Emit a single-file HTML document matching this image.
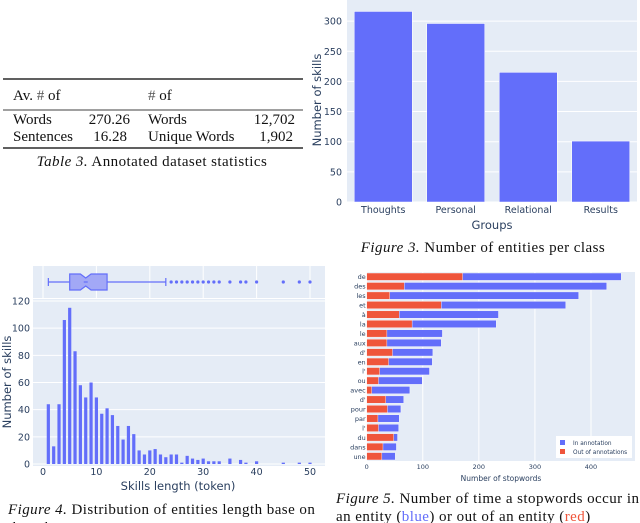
<!DOCTYPE html>
<html><head><meta charset="utf-8"><style>
body{margin:0;background:#fff;width:640px;height:523px;overflow:hidden}
svg{display:block}
.serif{font-family:"Liberation Serif",serif;fill:#111}
.cap{letter-spacing:0.45px}
.sans{font-family:"DejaVu Sans","Liberation Sans",sans-serif;fill:#2a3f5f}
</style></head><body>
<svg width="640" height="523" viewBox="0 0 640 523">
<g id="tbl">
<line x1="3" x2="303" y1="79" y2="79" stroke="#000" stroke-width="1.2"/>
<line x1="3" x2="303" y1="110" y2="110" stroke="#000" stroke-width="0.8"/>
<line x1="3" x2="303" y1="148" y2="148" stroke="#000" stroke-width="1.2"/>
<g class="serif" font-size="15">
<text x="13" y="100">Av. <tspan fill="#555">#</tspan> of</text>
<text x="148" y="100"><tspan fill="#555">#</tspan> of</text>
<text x="13" y="124">Words</text><text x="130" y="124" text-anchor="end">270.26</text>
<text x="148" y="124">Words</text><text x="295" y="124" text-anchor="end">12,702</text>
<text x="13" y="141">Sentences</text><text x="127" y="141" text-anchor="end">16.28</text>
<text x="148" y="141">Unique Words</text><text x="293" y="141" text-anchor="end">1,902</text>
</g>
<text class="serif cap" x="152" y="166" font-size="15" text-anchor="middle"><tspan font-style="italic">Table 3.</tspan> Annotated dataset statistics</text>
</g>
<g id="c3"></g>
<g id="c4"></g>
<g id="c5"></g>
<text class="serif cap" x="483" y="252" font-size="15" text-anchor="middle"><tspan font-style="italic">Figure 3.</tspan> Number of entities per class</text>
<text class="serif cap" x="8" y="514" font-size="15"><tspan font-style="italic">Figure 4.</tspan> Distribution of entities length base on</text>
<text class="serif cap" x="8" y="532" font-size="15">the tokens</text>
<text class="serif cap" x="336" y="503" font-size="15"><tspan font-style="italic">Figure 5.</tspan> Number of time a stopwords occur in</text>
<text class="serif cap" x="336" y="521" font-size="15">an entity (<tspan fill="#636efa">blue</tspan>) or out of an entity (<tspan fill="#ef553b">red</tspan>)</text>
</svg>
<script>
const NS="http://www.w3.org/2000/svg";
function mk(p,t,a,txt){const e=document.createElementNS(NS,t);for(const k in a)e.setAttribute(k,a[k]);if(txt!==undefined)e.textContent=txt;p.appendChild(e);return e;}
const BLUE="#636efa",RED="#ef553b",BG="#e5ecf6";

// Figure 3 data
const groups=["Thoughts","Personal","Relational","Results"];
const groupCounts=[316,296,215,101];
const ticks3=[0,50,100,150,200,250,300];

// Figure 4 data
const lengths=[1,2,3,4,5,6,7,8,9,10,11,12,13,14,15,16,17,18,19,20,21,22,23,24,25,26,27,28,29,30,31,32,33,35,37,38,40,45,48,50];
const lengthCounts=[44,13,44,106,115,83,58,49,60,49,37,41,36,28,18,28,22,10,7,10,11,7,5,7,7,1,6,4,3,4,2,2,2,4,3,1,2,1,1,1];
const boxStats=[1,5,8,12,23];
const outliers=[24,25,26,27,28,29,30,31,32,33,35,37,38,40,45,48,50];
const ticks4x=[0,10,20,30,40,50];
const ticks4y=[0,20,40,60,80,100,120];

// Figure 5 data
const stopwords=["de","des","les","et","à","la","le","aux","d'","en","l'","ou","avec","d'","pour","par","l'","du","dans","une"];
const totals=[454,428,378,355,235,231,135,133,118,117,112,99,77,66,61,58,57,55,53,51];
const outside=[171,67,41,133,58,81,36,36,46,39,23,21,9,34,37,20,21,48,29,27];
const ticks5=[0,100,200,300,400];

// ---- Figure 3
(function(){
const g=document.getElementById('c3');
const x0=347,x1=637,yT=0,yB=202,maxV=335;
const y=v=>yB-(v/maxV)*(yB-yT);
const bw=(x1-x0)/groups.length;
const bg=mk(g,'rect',{x:x0,y:yT,width:x1-x0,height:yB-yT,fill:BG});

ticks3.forEach(t=>{mk(g,'line',{x1:x0,x2:x1,y1:y(t),y2:y(t),stroke:'#fff','stroke-width':1});
const l=mk(g,'text',{x:x0-5,y:y(t)+3.5,'text-anchor':'end','font-size':9.5,class:'sans'},t);
});
groups.forEach((c,i)=>{const cx=x0+bw*(i+0.5);
const r=mk(g,'rect',{x:cx-bw*0.4,y:y(groupCounts[i]),width:bw*0.8,height:yB-y(groupCounts[i]),fill:BLUE,stroke:'#fff','stroke-width':0.5});

const l=mk(g,'text',{x:cx,y:213,'text-anchor':'middle','font-size':9.5,class:'sans'},c);
});
const xt=mk(g,'text',{x:492,y:229,'text-anchor':'middle','font-size':11.5,class:'sans'},'Groups');

const yt=mk(g,'text',{x:0,y:0,transform:'translate(321,100) rotate(-90)','text-anchor':'middle','font-size':11.5,class:'sans'},'Number of skills');

})();

// ---- Figure 4
(function(){
const g=document.getElementById('c4');
const x0=33,x1=325,yT=299,yB=464;
const x=v=>43+(v/50)*(310-43);
const y=v=>yB-(v/120)*(yB-301);
const bg1=mk(g,'rect',{x:x0,y:266,width:x1-x0,height:32,fill:BG});

const bg2=mk(g,'rect',{x:x0,y:yT,width:x1-x0,height:yB-yT+2,fill:BG});

ticks4x.forEach(t=>{mk(g,'line',{x1:x(t),x2:x(t),y1:266,y2:298,stroke:'#fff','stroke-width':1});
const l=mk(g,'text',{x:x(t),y:475,'text-anchor':'middle','font-size':9.5,class:'sans'},t);
});
ticks4y.forEach(t=>{mk(g,'line',{x1:x0,x2:x1,y1:y(t),y2:y(t),stroke:'#fff','stroke-width':1});
const l=mk(g,'text',{x:x0-3,y:y(t)+3.5,'text-anchor':'end','font-size':9.5,class:'sans'},t);
});
lengths.forEach((v,i)=>{const r=mk(g,'rect',{x:x(v)-1.6,y:y(lengthCounts[i]),width:3.2,height:yB-y(lengthCounts[i]),fill:BLUE});
});
const cy=282,h=8,[mn,q1,md,q3,mx]=boxStats;
const bp=mk(g,'g',{});
mk(bp,'line',{x1:x(mn),x2:x(q1),y1:cy,y2:cy,stroke:BLUE,'stroke-width':1.2});
mk(bp,'line',{x1:x(q3),x2:x(mx),y1:cy,y2:cy,stroke:BLUE,'stroke-width':1.2});
mk(bp,'line',{x1:x(mn),x2:x(mn),y1:cy-4,y2:cy+4,stroke:BLUE,'stroke-width':1.2});
mk(bp,'line',{x1:x(mx),x2:x(mx),y1:cy-4,y2:cy+4,stroke:BLUE,'stroke-width':1.2});
const n1=x(md-1),n2=x(md+1);
mk(bp,'path',{d:`M${x(q1)},${cy-h}H${n1}L${x(md)},${cy-4}L${n2},${cy-h}H${x(q3)}V${cy+h}H${n2}L${x(md)},${cy+4}L${n1},${cy+h}H${x(q1)}Z`,fill:'#a2a8f6',stroke:BLUE,'stroke-width':1.2});
mk(bp,'line',{x1:x(md)-2,x2:x(md)+2,y1:cy,y2:cy,stroke:BLUE,'stroke-width':1.2});
outliers.forEach(v=>{const c=mk(g,'circle',{cx:x(v),cy:cy,r:1.6,fill:BLUE});
});
const xt=mk(g,'text',{x:178,y:490,'text-anchor':'middle','font-size':11.5,class:'sans'},'Skills length (token)');

const yt=mk(g,'text',{x:0,y:0,transform:'translate(11,382) rotate(-90)','text-anchor':'middle','font-size':11.5,class:'sans'},'Number of skills');

})();

// ---- Figure 5
(function(){
const g=document.getElementById('c5');
const x0=366.7,x1=635,yT=272,yB=461;
const x=v=>x0+v*(591-x0)/400;
const rh=(yB-yT)/stopwords.length;
const bg=mk(g,'rect',{x:x0,y:yT,width:x1-x0,height:yB-yT,fill:BG});

ticks5.forEach(t=>{mk(g,'line',{x1:x(t),x2:x(t),y1:yT,y2:yB,stroke:'#fff','stroke-width':1});
const l=mk(g,'text',{x:x(t),y:469,'text-anchor':'middle','font-size':6.5,class:'sans'},t);
});
stopwords.forEach((w,i)=>{const cy=yT+rh*(i+0.5);
const b=mk(g,'rect',{x:x0,y:cy-3.7,width:x(totals[i])-x0,height:7.4,fill:BLUE,stroke:'#fff','stroke-width':0.4});

const r=mk(g,'rect',{x:x0,y:cy-3.7,width:x(outside[i])-x0,height:7.4,fill:RED,stroke:'#fff','stroke-width':0.4});

const l=mk(g,'text',{x:x0-1,y:cy+2.5,'text-anchor':'end','font-size':6.5,class:'sans'},w);
});
const lg=mk(g,'g',{});
mk(lg,'rect',{x:556,y:436,width:76,height:22,fill:'#fff'});
const e1=mk(lg,'rect',{x:560,y:440,width:5,height:5,fill:BLUE});

mk(lg,'text',{x:573,y:445,'font-size':5.8,class:'sans'},'In annotation');
const e2=mk(lg,'rect',{x:560,y:449,width:5,height:5,fill:RED});

mk(lg,'text',{x:573,y:454,'font-size':5.8,class:'sans'},'Out of annotations');
const xt=mk(g,'text',{x:501,y:481,'text-anchor':'middle','font-size':7.5,class:'sans'},'Number of stopwords');

})();
</script>
</body></html>
